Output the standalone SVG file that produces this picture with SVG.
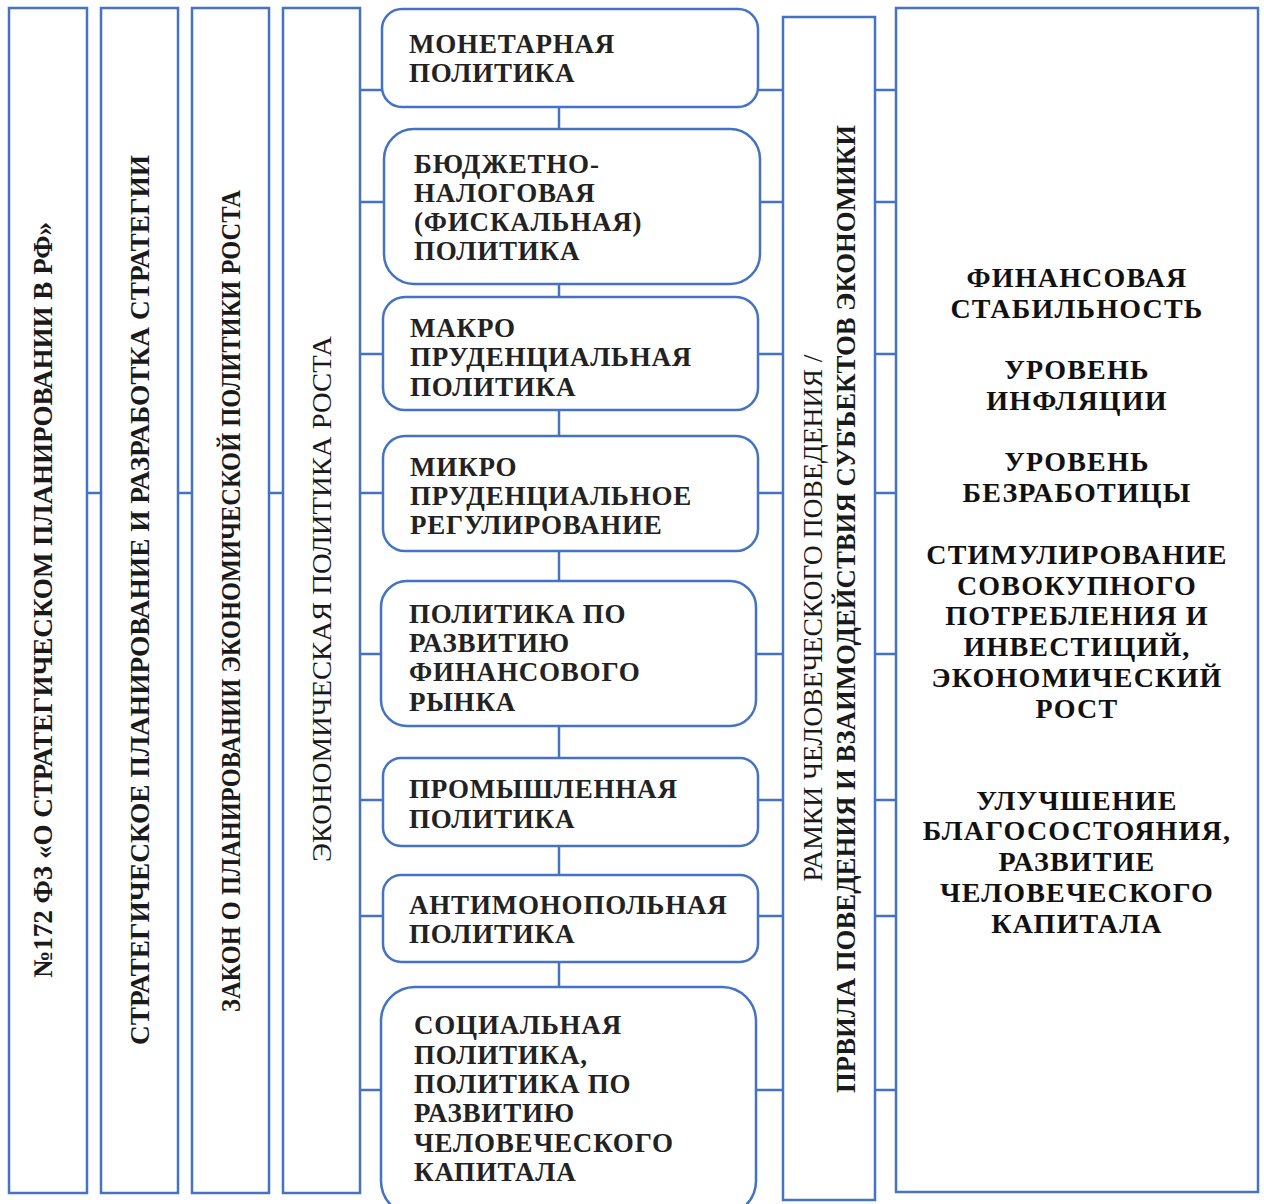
<svg xmlns="http://www.w3.org/2000/svg" width="1264" height="1204" viewBox="0 0 1264 1204">
<style>
.b{fill:#fff;stroke:#4472C4;stroke-width:2.5}
.c{stroke:#4472C4;stroke-width:2.5;fill:none}
.v{font-family:"Liberation Serif","Times New Roman",serif;font-size:27px;fill:#1a1a1a;text-anchor:middle}
.h{font-family:"Liberation Serif","Times New Roman",serif;font-size:27px;font-weight:bold;fill:#222;letter-spacing:0.8px}
.r{font-family:"Liberation Serif","Times New Roman",serif;font-size:28px;font-weight:bold;fill:#111;letter-spacing:1.2px;text-anchor:middle}
.bd{font-weight:bold}
</style>
<rect width="1264" height="1204" fill="#fff"/>
<g id="connectors" class="c">
<line x1="87" y1="493" x2="101" y2="493"/>
<line x1="178" y1="493" x2="192" y2="493"/>
<line x1="269" y1="493" x2="283" y2="493"/>
<line x1="559" y1="107" x2="559" y2="129"/>
<line x1="559" y1="284" x2="559" y2="297"/>
<line x1="559" y1="410" x2="559" y2="436"/>
<line x1="559" y1="551" x2="559" y2="581"/>
<line x1="559" y1="726" x2="559" y2="758"/>
<line x1="559" y1="846" x2="559" y2="875"/>
<line x1="559" y1="962" x2="559" y2="987"/>
<path d="M360 90H382M360 202H385M360 354H383M360 493H383M360 654H381M360 800H383M360 916H383M360 1090H381"/>
<path d="M757 90H783M759 202H783M757 354H783M757 493H783M755 654H783M757 800H783M757 916H783M755 1090H783"/>
<path d="M875 90H896M875 202H896M875 354H896M875 493H896M875 654H896M875 800H896M875 916H896M875 1090H896"/>
</g>
<g id="col1">
<rect class="b" x="9" y="8" width="78" height="1185"/>
<text class="v bd" transform="translate(52,600) rotate(-90)" textLength="756" lengthAdjust="spacingAndGlyphs">№172 ФЗ «О СТРАТЕГИЧЕСКОМ ПЛАНИРОВАНИИ В РФ»</text>
</g>
<g id="col2">
<rect class="b" x="101" y="8" width="77" height="1185"/>
<text class="v bd" transform="translate(149,600) rotate(-90)" textLength="890" lengthAdjust="spacingAndGlyphs">СТРАТЕГИЧЕСКОЕ ПЛАНИРОВАНИЕ И РАЗРАБОТКА СТРАТЕГИИ</text>
</g>
<g id="col3">
<rect class="b" x="192" y="8" width="77" height="1185"/>
<text class="v bd" transform="translate(240,601) rotate(-90)" textLength="822" lengthAdjust="spacingAndGlyphs">ЗАКОН О ПЛАНИРОВАНИИ ЭКОНОМИЧЕСКОЙ ПОЛИТИКИ РОСТА</text>
</g>
<g id="col4">
<rect class="b" x="283" y="8" width="77" height="1185"/>
<text class="v" transform="translate(331,599) rotate(-90)" textLength="526" lengthAdjust="spacingAndGlyphs">ЭКОНОМИЧЕСКАЯ ПОЛИТИКА РОСТА</text>
</g>
<g id="box1">
<rect class="b" x="382" y="9" width="376" height="98" rx="20"/>
<text class="h" x="409" y="53">МОНЕТАРНАЯ</text>
<text class="h" x="409" y="82">ПОЛИТИКА</text>
</g>
<g id="box2">
<rect class="b" x="384" y="129" width="376" height="155" rx="30"/>
<text class="h" x="414" y="173">БЮДЖЕТНО-</text>
<text class="h" x="414" y="202">НАЛОГОВАЯ</text>
<text class="h" x="414" y="231">(ФИСКАЛЬНАЯ)</text>
<text class="h" x="414" y="260">ПОЛИТИКА</text>
</g>
<g id="box3">
<rect class="b" x="383" y="297" width="375" height="113" rx="22"/>
<text class="h" x="410" y="337">МАКРО</text>
<text class="h" x="410" y="366">ПРУДЕНЦИАЛЬНАЯ</text>
<text class="h" x="410" y="396">ПОЛИТИКА</text>
</g>
<g id="box4">
<rect class="b" x="383" y="436" width="375" height="115" rx="22"/>
<text class="h" x="410" y="476">МИКРО</text>
<text class="h" x="410" y="505">ПРУДЕНЦИАЛЬНОЕ</text>
<text class="h" x="410" y="534">РЕГУЛИРОВАНИЕ</text>
</g>
<g id="box5">
<rect class="b" x="381" y="581" width="375" height="145" rx="26"/>
<text class="h" x="409" y="623">ПОЛИТИКА ПО</text>
<text class="h" x="409" y="652">РАЗВИТИЮ</text>
<text class="h" x="409" y="681">ФИНАНСОВОГО</text>
<text class="h" x="409" y="711">РЫНКА</text>
</g>
<g id="box6">
<rect class="b" x="383" y="758" width="375" height="88" rx="18"/>
<text class="h" x="409" y="798">ПРОМЫШЛЕННАЯ</text>
<text class="h" x="409" y="828">ПОЛИТИКА</text>
</g>
<g id="box7">
<rect class="b" x="383" y="875" width="375" height="87" rx="18"/>
<text class="h" x="409" y="914">АНТИМОНОПОЛЬНАЯ</text>
<text class="h" x="409" y="943">ПОЛИТИКА</text>
</g>
<g id="box8">
<rect class="b" x="381" y="987" width="375" height="228" rx="34"/>
<text class="h" x="414" y="1034">СОЦИАЛЬНАЯ</text>
<text class="h" x="414" y="1064">ПОЛИТИКА,</text>
<text class="h" x="414" y="1093">ПОЛИТИКА ПО</text>
<text class="h" x="414" y="1122">РАЗВИТИЮ</text>
<text class="h" x="414" y="1152">ЧЕЛОВЕЧЕСКОГО</text>
<text class="h" x="414" y="1181">КАПИТАЛА</text>
</g>
<g id="col5">
<rect class="b" x="783" y="17" width="92" height="1183"/>
<text class="v" transform="translate(822,618) rotate(-90)" textLength="527" lengthAdjust="spacingAndGlyphs">РАМКИ ЧЕЛОВЕЧЕСКОГО ПОВЕДЕНИЯ /</text>
<text class="v bd" transform="translate(855,609) rotate(-90)" textLength="968" lengthAdjust="spacingAndGlyphs">ПРВИЛА ПОВЕДЕНИЯ И ВЗАИМОДЕЙСТВИЯ СУБЪЕКТОВ ЭКОНОМИКИ</text>
</g>
<g id="col6">
<rect class="b" x="896" y="8" width="362" height="1184"/>
<text class="r" x="1077" y="287">ФИНАНСОВАЯ</text>
<text class="r" x="1077" y="318">СТАБИЛЬНОСТЬ</text>
<text class="r" x="1077" y="379">УРОВЕНЬ</text>
<text class="r" x="1077" y="410">ИНФЛЯЦИИ</text>
<text class="r" x="1077" y="471">УРОВЕНЬ</text>
<text class="r" x="1077" y="502">БЕЗРАБОТИЦЫ</text>
<text class="r" x="1077" y="564">СТИМУЛИРОВАНИЕ</text>
<text class="r" x="1077" y="595">СОВОКУПНОГО</text>
<text class="r" x="1077" y="625">ПОТРЕБЛЕНИЯ И</text>
<text class="r" x="1077" y="656">ИНВЕСТИЦИЙ,</text>
<text class="r" x="1077" y="687">ЭКОНОМИЧЕСКИЙ</text>
<text class="r" x="1077" y="718">РОСТ</text>
<text class="r" x="1077" y="810">УЛУЧШЕНИЕ</text>
<text class="r" x="1077" y="840">БЛАГОСОСТОЯНИЯ,</text>
<text class="r" x="1077" y="871">РАЗВИТИЕ</text>
<text class="r" x="1077" y="902">ЧЕЛОВЕЧЕСКОГО</text>
<text class="r" x="1077" y="933">КАПИТАЛА</text>
</g>
</svg>
